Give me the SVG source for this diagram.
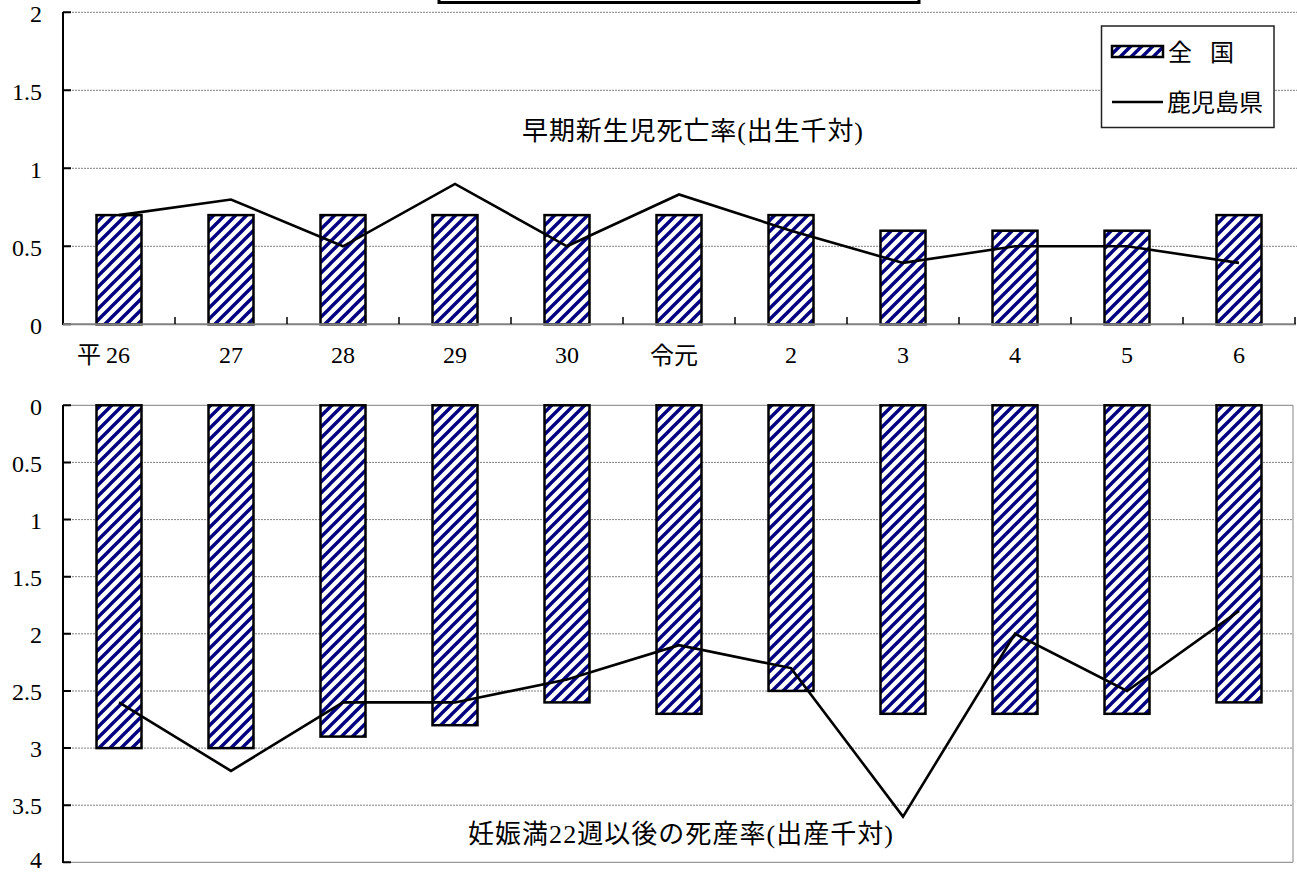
<svg xmlns="http://www.w3.org/2000/svg" width="1297" height="873" viewBox="0 0 1297 873">
<style>
.num{font-family:"Liberation Serif","DejaVu Serif",serif;font-size:24px;fill:#000}
.ax{text-anchor:end}
.cat{text-anchor:middle}
.jp{font-family:"Liberation Serif","Noto Sans CJK JP",sans-serif;font-size:24px;fill:#000}
.ttl{font-size:26px}
.grid{stroke:#808080;stroke-width:1;stroke-dasharray:2 1;fill:none}
.axis{stroke:#000;stroke-width:2;fill:none}
.cax{stroke:#808080;stroke-width:2;fill:none}
.bar{fill:url(#hatch);stroke:#000;stroke-width:2.5}
.ser{fill:none;stroke:#000;stroke-width:2.6;stroke-linejoin:miter}
</style>
<defs>
<pattern id="hatch" patternUnits="userSpaceOnUse" width="11" height="11">
<rect width="11" height="11" fill="#fff"/>
<path d="M-1,12 L12,-1 M-3,3 L3,-3 M8,14 L14,8" stroke="#000080" stroke-width="3.4"/>
</pattern>
</defs>
<rect width="1297" height="873" fill="#fff"/>

<g id="title-box">
<rect x="439" y="-40" width="480" height="42.5" fill="#fff" stroke="#000" stroke-width="3"/>
</g>

<g id="top-chart">
<g id="top-grid">
<line class="grid" x1="63" y1="12.3" x2="1297" y2="12.3"/>
<line class="grid" x1="63" y1="90.3" x2="1297" y2="90.3"/>
<line class="grid" x1="63" y1="168.3" x2="1297" y2="168.3"/>
<line class="grid" x1="63" y1="246.3" x2="1297" y2="246.3"/>
</g>
<g id="top-yaxis">
<line class="axis" x1="63" y1="12" x2="63" y2="325"/>
<path class="axis" d="M63,12.3H71M63,90.3H71M63,168.3H71M63,246.3H71M63,324.3H71"/>
<text class="num ax" x="42" y="22">2</text>
<text class="num ax" x="42" y="100">1.5</text>
<text class="num ax" x="42" y="178">1</text>
<text class="num ax" x="42" y="256">0.5</text>
<text class="num ax" x="42" y="334">0</text>
</g>
<g id="top-bars">
<rect class="bar" x="96.5" y="215.1" width="45" height="109.2"/>
<rect class="bar" x="208.5" y="215.1" width="45" height="109.2"/>
<rect class="bar" x="320.5" y="215.1" width="45" height="109.2"/>
<rect class="bar" x="432.5" y="215.1" width="45" height="109.2"/>
<rect class="bar" x="544.5" y="215.1" width="45" height="109.2"/>
<rect class="bar" x="656.5" y="215.1" width="45" height="109.2"/>
<rect class="bar" x="768.5" y="215.1" width="45" height="109.2"/>
<rect class="bar" x="880.5" y="230.7" width="45" height="93.6"/>
<rect class="bar" x="992.5" y="230.7" width="45" height="93.6"/>
<rect class="bar" x="1104.5" y="230.7" width="45" height="93.6"/>
<rect class="bar" x="1216.5" y="215.1" width="45" height="109.2"/>
</g>
<g id="top-xaxis">
<line class="cax" x1="63" y1="324.3" x2="1296" y2="324.3"/>
<path stroke="#000" stroke-width="1.5" d="M175,317V324M287,317V324M399,317V324M511,317V324M623,317V324M735,317V324M847,317V324M959,317V324M1071,317V324M1183,317V324M1295,317V324"/>
<text class="jp" x="77" y="363">平<tspan class="num" dx="5">26</tspan></text>
<text class="num cat" x="231" y="363">27</text>
<text class="num cat" x="343" y="363">28</text>
<text class="num cat" x="455" y="363">29</text>
<text class="num cat" x="567" y="363">30</text>
<text class="jp cat" x="674" y="364">令元</text>
<text class="num cat" x="791" y="363">2</text>
<text class="num cat" x="903" y="363">3</text>
<text class="num cat" x="1015" y="363">4</text>
<text class="num cat" x="1127" y="363">5</text>
<text class="num cat" x="1239" y="363">6</text>
</g>
<g id="top-line">
<polyline class="ser" points="119,215.1 231,199.5 343,246.3 455,183.9 567,246.3 679,194.5 791,230.7 903,262.9 1015,246.3 1127,246.3 1239,262.9"/>
</g>
<g id="top-label">
<text class="jp ttl" x="522" y="140" textLength="341" lengthAdjust="spacing">早期新生児死亡率(出生千対)</text>
</g>
<g id="legend">
<rect x="1101.5" y="26" width="172.5" height="101.5" fill="#fff" stroke="#222" stroke-width="1.5"/>
<rect class="bar" x="1112" y="46" width="51" height="11"/>
<line x1="1112" y1="102" x2="1163" y2="102" stroke="#000" stroke-width="2.6"/>
<text class="jp" x="1168" y="61" style="word-spacing:12px">全 国</text>
<text class="jp" x="1167" y="111">鹿児島県</text>
</g>
</g>

<g id="bottom-chart">
<g id="bottom-grid">
<line class="grid" x1="63" y1="462.4" x2="1293" y2="462.4"/>
<line class="grid" x1="63" y1="519.6" x2="1293" y2="519.6"/>
<line class="grid" x1="63" y1="576.7" x2="1293" y2="576.7"/>
<line class="grid" x1="63" y1="633.8" x2="1293" y2="633.8"/>
<line class="grid" x1="63" y1="691" x2="1293" y2="691"/>
<line class="grid" x1="63" y1="748.1" x2="1293" y2="748.1"/>
<line class="grid" x1="63" y1="805.2" x2="1293" y2="805.2"/>
<line x1="63" y1="862.3" x2="1293" y2="862.3" stroke="#999" stroke-width="1.2"/>
<line x1="1293" y1="405.3" x2="1293" y2="862.3" stroke="#999" stroke-width="1.2"/>
<line x1="63" y1="405.3" x2="1293" y2="405.3" stroke="#999" stroke-width="1.2"/>
</g>
<g id="bottom-yaxis">
<line class="axis" x1="63" y1="405" x2="63" y2="863"/>
<path class="axis" d="M63,405.3H71M63,462.4H71M63,519.6H71M63,576.7H71M63,633.8H71M63,691H71M63,748.1H71M63,805.2H71M63,862.3H71"/>
<text class="num ax" x="42" y="415">0</text>
<text class="num ax" x="42" y="472">0.5</text>
<text class="num ax" x="42" y="529">1</text>
<text class="num ax" x="42" y="586">1.5</text>
<text class="num ax" x="42" y="643">2</text>
<text class="num ax" x="42" y="700">2.5</text>
<text class="num ax" x="42" y="757">3</text>
<text class="num ax" x="42" y="814">3.5</text>
<text class="num ax" x="42" y="868">4</text>
</g>
<g id="bottom-bars">
<rect class="bar" x="96.5" y="405.3" width="45" height="342.8"/>
<rect class="bar" x="208.5" y="405.3" width="45" height="342.8"/>
<rect class="bar" x="320.5" y="405.3" width="45" height="331.3"/>
<rect class="bar" x="432.5" y="405.3" width="45" height="319.9"/>
<rect class="bar" x="544.5" y="405.3" width="45" height="297.1"/>
<rect class="bar" x="656.5" y="405.3" width="45" height="308.5"/>
<rect class="bar" x="768.5" y="405.3" width="45" height="285.6"/>
<rect class="bar" x="880.5" y="405.3" width="45" height="308.5"/>
<rect class="bar" x="992.5" y="405.3" width="45" height="308.5"/>
<rect class="bar" x="1104.5" y="405.3" width="45" height="308.5"/>
<rect class="bar" x="1216.5" y="405.3" width="45" height="297.1"/>
</g>
<g id="bottom-line">
<polyline class="ser" points="119,702.4 231,770.9 343,702.4 455,702.4 567,679.5 679,645.2 791,668.1 903,816.6 1015,633.8 1127,691 1239,610.9"/>
</g>
<g id="bottom-label">
<text class="jp ttl" x="468" y="843" textLength="425" lengthAdjust="spacing">妊娠満22週以後の死産率(出産千対)</text>
</g>
</g>
</svg>
